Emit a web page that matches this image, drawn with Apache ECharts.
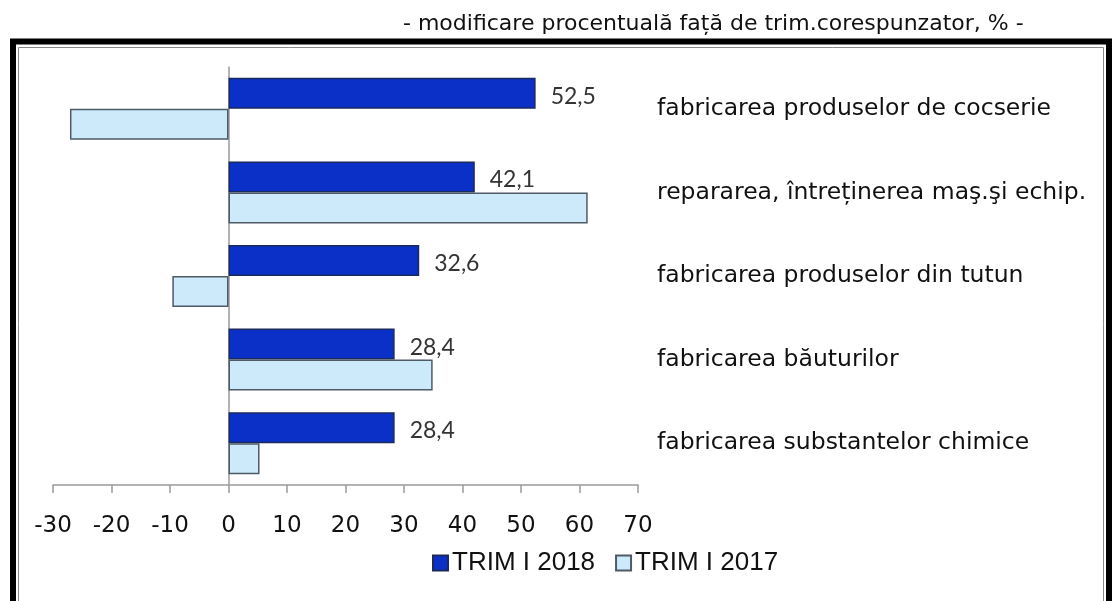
<!DOCTYPE html>
<html>
<head>
<meta charset="utf-8">
<script src="https://cdn.jsdelivr.net/npm/echarts@6/dist/echarts.min.js"></script>
<style>
  html, body { margin: 0; padding: 0; background: #fff; }
  #main { width: 1115px; height: 601px; }
</style>
</head>
<body>
<div id="main"></div>
<script>
let mychart = echarts.init(document.getElementById('main'));

// categories top to bottom
let categories = [
    'fabricarea produselor de cocserie',
    'repararea, întreținerea maş.şi echip.',
    'fabricarea produselor din tutun',
    'fabricarea băuturilor',
    'fabricarea substantelor chimice'
]
let trim2018 = [52.5, 42.1, 32.6, 28.4, 28.4]
let trim2017 = [-27.1, 61.4, -9.6, 34.9, 5.3]
let seriesNames = ['TRIM I 2018', 'TRIM I 2017']
let subtitle = '- modificare procentuală față de trim.corespunzator, % -'

// the reference text is a bit stretched, DejaVu is wider than Arial
let wide = '"DejaVu Sans", "Liberation Sans", sans-serif'
let sans = '"Liberation Sans", Arial, sans-serif'
let grey = '#9a9a9a'

let option = {
    animation: false,
    backgroundColor: '#fff',
    title: {
        text: subtitle,
        left: 398,
        top: 8,
        textStyle: {
            fontFamily: wide,
            fontSize: 22,
            fontWeight: 'normal',
            color: '#111'
        }
    },
    graphic: [{
        type: 'rect',
        shape: { x: 13, y: 41.5, width: 1096, height: 620 },
        style: { fill: null, stroke: '#000', lineWidth: 6 },
        silent: true
    }, {
        type: 'rect',
        shape: { x: 18.5, y: 47.5, width: 1085, height: 600 },
        style: { fill: null, stroke: '#888', lineWidth: 1 },
        silent: true
    }],
    legend: {
        left: 427,
        top: 545,
        itemWidth: 15,
        itemHeight: 15,
        itemGap: 20,
        icon: 'rect',
        textStyle: {
            fontFamily: sans,
            fontSize: 26,
            color: '#111',
            padding: [0, 0, 0, -1]
        }
    },
    grid: {
        left: 53,
        right: 477,
        top: 67,
        bottom: 116
    },
    xAxis: {
        type: 'value',
        min: -30,
        max: 70,
        interval: 10,
        splitLine: { show: false },
        axisLine: { show: true, onZero: false, lineStyle: { color: grey, width: 1.5 } },
        axisTick: { show: true, length: 8, lineStyle: { color: grey, width: 1.5 } },
        axisLabel: {
            margin: 30,
            fontFamily: wide,
            fontSize: 23,
            color: '#111'
        }
    },
    yAxis: [{
        type: 'category',
        data: categories,
        inverse: true,
        axisLine: { show: true, onZero: true, lineStyle: { color: grey, width: 1.5 } },
        axisTick: { show: false },
        axisLabel: { show: false }
    }, {
        type: 'category',
        data: categories,
        inverse: true,
        position: 'right',
        axisLine: { show: false },
        axisTick: { show: false },
        axisLabel: {
            margin: 19,
            align: 'left',
            padding: [6, 0, 0, 0],
            fontFamily: wide,
            fontSize: 23.5,
            color: '#111'
        }
    }],
    series: [{
        name: seriesNames[0],
        type: 'bar',
        data: trim2018,
        barWidth: 31,
        barGap: '0%',
        itemStyle: { color: '#0a30c8', borderColor: '#1b2a5e', borderWidth: 1.5 },
        label: {
            show: true,
            position: 'right',
            distance: 15,
            offset: [0, 3],
            fontFamily: 'Lato, "Open Sans", sans-serif',
            fontSize: 23,
            color: '#333',
            formatter: p => p.value.toFixed(1).replace('.', ',')
        }
    }, {
        name: seriesNames[1],
        type: 'bar',
        data: trim2017,
        barWidth: 31,
        barGap: '0%',
        itemStyle: { color: '#cdeafb', borderColor: '#4e5b66', borderWidth: 1.5 }
    }]
};
mychart.setOption(option);
</script>
</body>
</html>
